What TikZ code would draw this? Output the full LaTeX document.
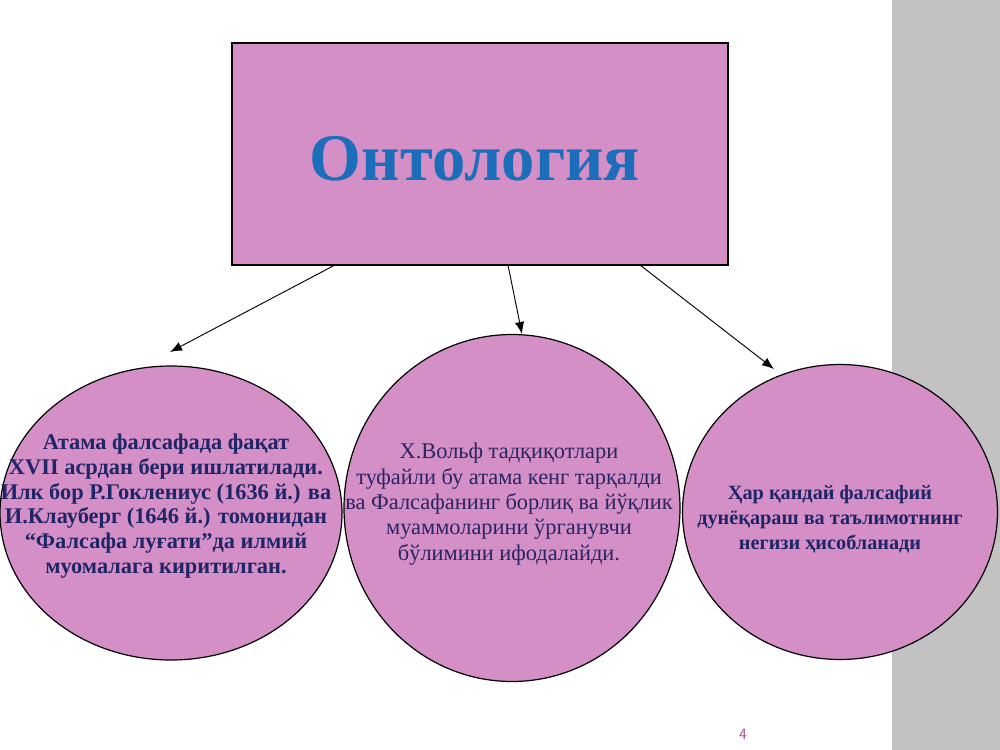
\documentclass[tikz,border=0pt]{standalone}
\usepackage{fontspec}
\setmainfont{Liberation Serif}
\usetikzlibrary{arrows.meta,shapes.geometric}
\definecolor{orch}{HTML}{D48FC6}
\definecolor{titleblue}{HTML}{1C6EBA}
\definecolor{navy}{HTML}{1F2566}
\definecolor{navyreg}{HTML}{2A2560}
\definecolor{strip}{HTML}{C2C2C2}
\definecolor{pagenum}{HTML}{A0508F}
\tikzset{
  shapebox/.style={draw=black, line width=0.9pt, fill=orch},
  conn/.style={draw=black, line width=0.7pt, -{Latex[length=9pt,width=7pt]}},
  circtext/.style={align=center},
}
\begin{document}
\begin{tikzpicture}[x=0.75pt,y=-0.75pt]
\useasboundingbox (0,0) rectangle (1000,750);
\fill[white] (0,0) rectangle (1000,750);
\fill[strip] (892,0) rectangle (1000,750);
% title box
\node[shapebox, minimum width=496*0.75pt, minimum height=222*0.75pt, inner sep=0pt, anchor=center] (title) at (480,154) {};
\node[text=titleblue, font=\fontsize{50}{55}\selectfont\bfseries, anchor=center] (titletext) at (475,159) {Онтология};
% circles
\node[shapebox, ellipse, minimum width=342*0.75pt, minimum height=294*0.75pt, inner sep=0pt] (left) at (171,513) {};
\node[shapebox, ellipse, minimum width=336*0.75pt, minimum height=347*0.75pt, inner sep=0pt] (mid) at (512,508) {};
\node[shapebox, ellipse, minimum width=315*0.75pt, minimum height=295*0.75pt, inner sep=0pt] (right) at (840,512) {};
% texts
\node[circtext, text=navy, font=\fontsize{16.8}{18.5}\selectfont\bfseries] (lefttext) at (166,506) {Атама фалсафада фақат\\XVII асрдан бери ишлатилади.\\Илк бор Р.Гоклениус (1636 й.) ва\\И.Клауберг (1646 й.) томонидан\\“Фалсафа луғати”да илмий\\муомалага киритилган.};
\node[circtext, text=navyreg, font=\fontsize{16.8}{19}\selectfont] (midtext) at (509,504) {Х.Вольф тадқиқотлари\\туфайли бу атама кенг тарқалди\\ва Фалсафанинг борлиқ ва йўқлик\\муаммоларини ўрганувчи\\бўлимини ифодалайди.};
\node[circtext, text=navy, font=\fontsize{15.2}{18.75}\selectfont\bfseries] (righttext) at (830,519) {Ҳар қандай фалсафий\\дунёқараш ва таълимотнинг\\негизи ҳисобланади};
% connectors
\coordinate (a1) at (335,265);
\coordinate (a1e) at (170,352);
\coordinate (a2) at (508,265);
\coordinate (a2e) at (522,334);
\coordinate (a3) at (640,265);
\coordinate (a3e) at (774,369);
\draw[conn] (a1) -- (a1e);
\draw[conn] (a2) -- (a2e);
\draw[conn] (a3) -- (a3e);
% page number
\node[text=pagenum, font=\fontsize{12}{14}\selectfont\sffamily] (pnum) at (743,734) {4};
\end{tikzpicture}
\end{document}
